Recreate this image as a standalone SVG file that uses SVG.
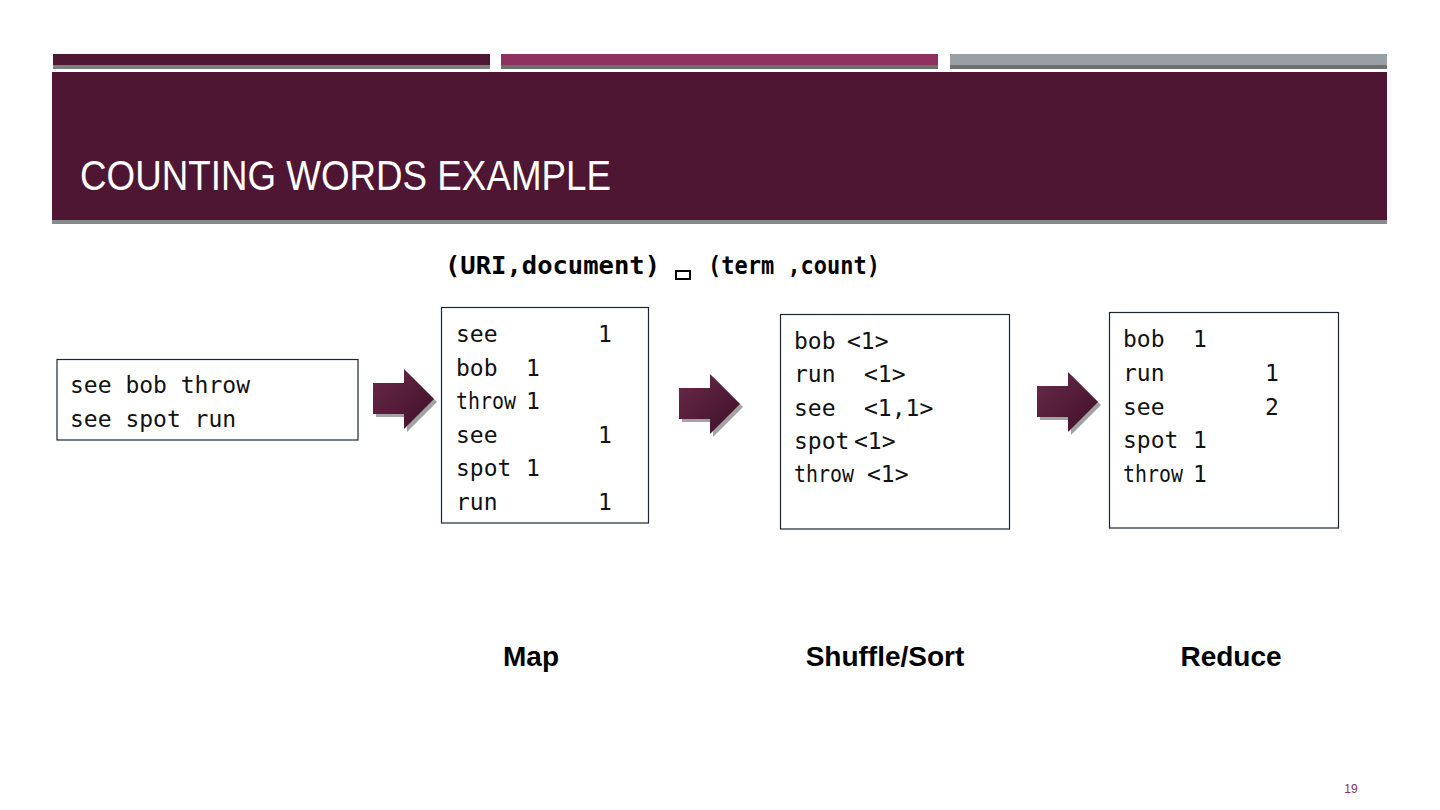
<svg xmlns="http://www.w3.org/2000/svg" width="1440" height="810" viewBox="0 0 1440 810">
<defs>
<linearGradient id="ag" x1="0" y1="0" x2="1" y2="1">
<stop offset="0" stop-color="#6a2a4a"/>
<stop offset="1" stop-color="#3e0f28"/>
</linearGradient>
<polygon id="arrow" points="0,14 31,14 31,0 61,30 31,60 31,45 0,45"/>
</defs>
<style>
.box{fill:#fff;stroke:#1c2633;stroke-width:1.2}
.mono{font-family:"DejaVu Sans Mono","Liberation Mono",monospace;font-size:23px;fill:#111}
.lbl{font-family:"Liberation Sans",Arial,sans-serif;font-size:28px;font-weight:bold;fill:#000;text-anchor:middle}
</style>
<rect width="1440" height="810" fill="#fff"/>
<g id="header">
<rect x="53" y="54" width="437" height="15" fill="#7f7f7f"/>
<rect x="53" y="54" width="437" height="11" fill="#4e1734"/>
<rect x="501" y="54" width="437" height="15" fill="#6e6e6e"/>
<rect x="501" y="54" width="437" height="11" fill="#8e3060"/>
<rect x="950" y="54" width="437" height="15" fill="#707070"/>
<rect x="950" y="54" width="437" height="11" fill="#98a0a6"/>
<rect x="52" y="72" width="1335" height="152" fill="#8a8a8a"/>
<rect x="52" y="72" width="1335" height="148" fill="#4f1634"/>
<text x="80" y="190" font-family="Liberation Sans Narrow, Liberation Sans, sans-serif" font-size="43" fill="#fff" textLength="531" lengthAdjust="spacingAndGlyphs">COUNTING WORDS EXAMPLE</text>
</g>
<g id="subtitle">
<text x="445" y="274" font-family="DejaVu Sans Mono, monospace" font-weight="bold" font-size="25" fill="#000" textLength="215" lengthAdjust="spacingAndGlyphs">(URI,document)</text>
<rect x="676" y="271" width="14" height="8" fill="none" stroke="#000" stroke-width="2"/>
<text x="708" y="274" font-family="DejaVu Sans Mono, monospace" font-weight="bold" font-size="25" fill="#000" textLength="172" lengthAdjust="spacingAndGlyphs">(term ,count)</text>
</g>
<g id="input">
<rect class="box" x="57" y="359.5" width="301" height="80.5"/>
<text class="mono" x="70" y="393">see bob throw</text>
<text class="mono" x="70" y="427">see spot run</text>
</g>
<g id="map">
<rect class="box" x="441.5" y="307.5" width="207" height="215.5"/>
<text class="mono" x="456" y="342">see<tspan x="598">1</tspan></text>
<text class="mono" x="456" y="376">bob<tspan x="526">1</tspan></text>
<text class="mono" x="456" y="409"><tspan textLength="60" lengthAdjust="spacingAndGlyphs">throw</tspan><tspan x="526">1</tspan></text>
<text class="mono" x="456" y="443">see<tspan x="598">1</tspan></text>
<text class="mono" x="456" y="476">spot<tspan x="526">1</tspan></text>
<text class="mono" x="456" y="510">run<tspan x="598">1</tspan></text>
</g>
<g id="shuffle">
<rect class="box" x="780.5" y="314.5" width="229" height="214.5"/>
<text class="mono" x="794" y="349">bob<tspan x="847">&lt;1&gt;</tspan></text>
<text class="mono" x="794" y="382">run<tspan x="864">&lt;1&gt;</tspan></text>
<text class="mono" x="794" y="416">see<tspan x="864">&lt;1,1&gt;</tspan></text>
<text class="mono" x="794" y="449">spot<tspan x="854">&lt;1&gt;</tspan></text>
<text class="mono" x="794" y="482"><tspan textLength="60" lengthAdjust="spacingAndGlyphs">throw</tspan><tspan x="867">&lt;1&gt;</tspan></text>
</g>
<g id="reduce">
<rect class="box" x="1109.5" y="312.5" width="229" height="215.5"/>
<text class="mono" x="1123" y="347">bob<tspan x="1193">1</tspan></text>
<text class="mono" x="1123" y="381">run<tspan x="1265">1</tspan></text>
<text class="mono" x="1123" y="415">see<tspan x="1265">2</tspan></text>
<text class="mono" x="1123" y="448">spot<tspan x="1193">1</tspan></text>
<text class="mono" x="1123" y="482"><tspan textLength="60" lengthAdjust="spacingAndGlyphs">throw</tspan><tspan x="1193">1</tspan></text>
</g>
<g id="connectors">
<use href="#arrow" x="376" y="372" fill="#8c8c8c" opacity="0.8"/>
<use href="#arrow" x="373" y="369" fill="url(#ag)"/>
<use href="#arrow" x="682" y="377" fill="#8c8c8c" opacity="0.8"/>
<use href="#arrow" x="679" y="374" fill="url(#ag)"/>
<use href="#arrow" x="1040" y="375" fill="#8c8c8c" opacity="0.8"/>
<use href="#arrow" x="1037" y="372" fill="url(#ag)"/>
</g>
<g id="labels">
<text class="lbl" x="531" y="666">Map</text>
<text class="lbl" x="885" y="666">Shuffle/Sort</text>
<text class="lbl" x="1231" y="666">Reduce</text>
</g>
<text x="1351" y="793" font-family="Liberation Sans, sans-serif" font-size="12" fill="#8e3060" text-anchor="middle">19</text>
</svg>
